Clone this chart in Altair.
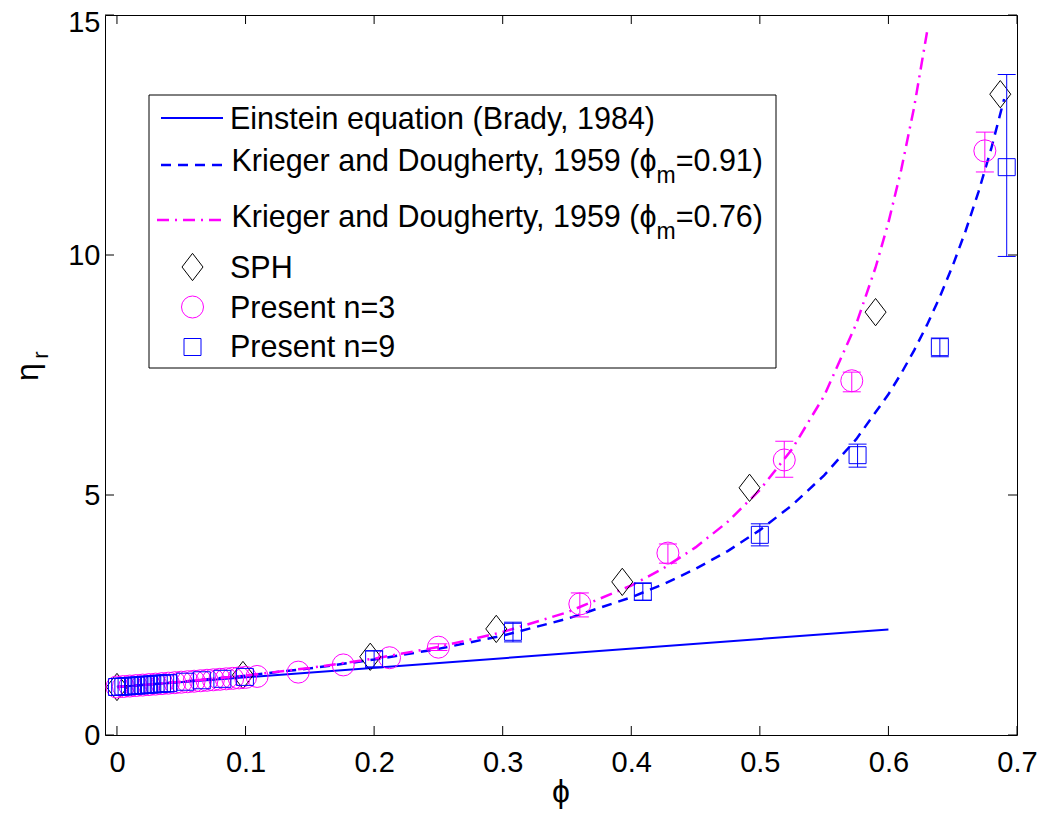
import altair as alt
import pandas as pd

# ---------------- data ----------------
einstein_phi = [0.0, 0.6]
einstein_eta = [1.0, 2.2]

kd91_phi = [0.0, 0.05, 0.1, 0.15, 0.2, 0.25, 0.3, 0.35, 0.4, 0.425, 0.45, 0.475, 0.5,
            0.525, 0.55, 0.575, 0.6, 0.61, 0.62, 0.63, 0.64, 0.65, 0.66, 0.67, 0.68, 0.69]
kd91_eta = [1.0, 1.108, 1.236, 1.388, 1.571, 1.794, 2.071, 2.420, 2.869, 3.143, 3.461, 3.832, 4.268,
            4.786, 5.408, 6.164, 7.098, 7.535, 8.014, 8.543, 9.128, 9.777, 10.50, 11.31, 12.22, 13.25]

kd76_phi = [0.0, 0.05, 0.1, 0.15, 0.2, 0.25, 0.3, 0.35, 0.4, 0.425, 0.45, 0.475, 0.5,
            0.525, 0.55, 0.575, 0.59, 0.6, 0.61, 0.62, 0.63]
kd76_eta = [1.0, 1.109, 1.239, 1.397, 1.591, 1.834, 2.145, 2.555, 3.114, 3.473, 3.908, 4.441, 5.106,
            5.954, 7.064, 8.565, 9.740, 10.68, 11.78, 13.08, 14.64]

sph_phi = [0.0, 0.098, 0.197, 0.295, 0.393, 0.492, 0.590, 0.687]
sph_eta = [1.00, 1.25, 1.63, 2.21, 3.19, 5.15, 8.81, 13.35]

n3_phi = [0.0, 0.005, 0.01, 0.015, 0.02, 0.025, 0.03, 0.035, 0.04, 0.045, 0.05,
          0.055, 0.06, 0.065, 0.07, 0.075, 0.08, 0.085, 0.09, 0.095, 0.1, 0.109,
          0.141, 0.176, 0.212, 0.25, 0.36, 0.4285, 0.519, 0.5715, 0.675]
n3_eta = [1.00, 1.01, 1.02, 1.03, 1.04, 1.05, 1.06, 1.07, 1.08, 1.09, 1.10,
          1.11, 1.12, 1.13, 1.14, 1.15, 1.16, 1.17, 1.18, 1.19, 1.20, 1.22,
          1.31, 1.46, 1.61, 1.83, 2.73, 3.79, 5.73, 7.38, 12.17]
n3_err_phi = [0.25, 0.36, 0.4285, 0.519, 0.5715, 0.675]
n3_err_lo = [1.76, 2.46, 3.58, 5.37, 7.15, 11.73]
n3_err_hi = [1.90, 2.96, 3.98, 6.12, 7.56, 12.56]

n9_phi = [0.0, 0.0025, 0.005, 0.0075, 0.01, 0.0125, 0.015, 0.0175, 0.02, 0.0225, 0.025,
          0.0275, 0.03, 0.0325, 0.035, 0.0375, 0.04, 0.053, 0.066, 0.082, 0.0995,
          0.2, 0.308, 0.409, 0.5, 0.576, 0.640, 0.692]
n9_eta = [1.000, 1.005, 1.010, 1.015, 1.020, 1.025, 1.030, 1.035, 1.040, 1.045, 1.050,
          1.055, 1.060, 1.065, 1.070, 1.075, 1.080, 1.11, 1.14, 1.17, 1.21,
          1.58, 2.15, 2.98, 4.17, 5.83, 8.08, 11.83]
n9_err_phi = [0.2, 0.308, 0.409, 0.5, 0.576, 0.640, 0.692]
n9_err_lo = [1.42, 1.94, 2.81, 3.94, 5.58, 7.88, 9.97]
n9_err_hi = [1.75, 2.35, 3.17, 4.40, 6.06, 8.27, 13.76]

x_ticks = [0, 0.1, 0.2, 0.3, 0.4, 0.5, 0.6, 0.7]
y_ticks = [0, 5, 10, 15]

legend_labels = ["Einstein equation (Brady, 1984)",
                 "Krieger and Dougherty, 1959 (\u03d5", "m", "=0.91)",
                 "Krieger and Dougherty, 1959 (\u03d5", "m", "=0.76)",
                 "SPH", "Present n=3", "Present n=9"]

# ---------------- styling ----------------
W, H = 912, 720
FONT = "Liberation Sans"
BLUE = "#0000ff"
MAG = "#ff00ff"
DIAMOND = "M0,-1.3L1,0L0,1.3L-1,0Z"
FS = 30.5

xs = alt.Scale(domain=[-0.0093, 0.7], nice=False, zero=False)
ys = alt.Scale(domain=[0, 15], nice=False, zero=False)
x_axis = alt.Axis(values=x_ticks, format="~g", ticks=False, tickSize=0, domain=False, grid=False,
                  labelFont=FONT, labelFontSize=29, labelColor="black", labelPadding=13,
                  labelFlush=False, labelOverlap=False, title=None)
y_axis = alt.Axis(values=y_ticks, format="d", ticks=False, tickSize=0, domain=False, grid=False,
                  labelFont=FONT, labelFontSize=29, labelColor="black", labelPadding=5,
                  labelFlush=False, labelOverlap=False, title=None,
                  labelOffset={"condition": {"test": "datum.value == 15", "value": 7}, "value": 0})


def X(f):
    return alt.X(f, type="quantitative", scale=xs, axis=x_axis)


def Y(f):
    return alt.Y(f, type="quantitative", scale=ys, axis=y_axis)


def Y2(f):
    return alt.Y2(f)


one = pd.DataFrame({"k": [0]})
layers = []

# curves
df_e = pd.DataFrame({"phi": einstein_phi, "eta": einstein_eta})
layers.append(alt.Chart(df_e).mark_line(color=BLUE, strokeWidth=2).encode(x=X("phi"), y=Y("eta")))
df_91 = pd.DataFrame({"phi": kd91_phi, "eta": kd91_eta})
layers.append(alt.Chart(df_91).mark_line(color=BLUE, strokeWidth=2.5, strokeDash=[10, 7])
              .encode(x=X("phi"), y=Y("eta")))
df_76 = pd.DataFrame({"phi": kd76_phi, "eta": kd76_eta})
layers.append(alt.Chart(df_76).mark_line(color=MAG, strokeWidth=2.5, strokeDash=[12, 6, 2, 6])
              .encode(x=X("phi"), y=Y("eta")))

# SPH diamonds
df_s = pd.DataFrame({"phi": sph_phi, "eta": sph_eta})
layers.append(alt.Chart(df_s).mark_point(shape=DIAMOND, size=441, filled=False, color="black",
                                         strokeWidth=1, opacity=1)
              .encode(x=X("phi"), y=Y("eta")))

# n=3 circles + error bars
df_3 = pd.DataFrame({"phi": n3_phi, "eta": n3_eta})
df_3e = pd.DataFrame({"phi": n3_err_phi, "lo": n3_err_lo, "hi": n3_err_hi})
layers.append(alt.Chart(df_3e).mark_rule(color=MAG, strokeWidth=1)
              .encode(x=X("phi"), y=Y("lo"), y2=Y2("hi")))
layers.append(alt.Chart(df_3e).mark_tick(color=MAG, orient="horizontal", size=18, thickness=1, opacity=1)
              .encode(x=X("phi"), y=Y("lo")))
layers.append(alt.Chart(df_3e).mark_tick(color=MAG, orient="horizontal", size=18, thickness=1, opacity=1)
              .encode(x=X("phi"), y=Y("hi")))
layers.append(alt.Chart(df_3).mark_point(shape="circle", size=484, filled=False, color=MAG,
                                         strokeWidth=1, opacity=1)
              .encode(x=X("phi"), y=Y("eta")))

# n=9 squares + error bars
df_9 = pd.DataFrame({"phi": n9_phi, "eta": n9_eta})
df_9e = pd.DataFrame({"phi": n9_err_phi, "lo": n9_err_lo, "hi": n9_err_hi})
layers.append(alt.Chart(df_9e).mark_rule(color=BLUE, strokeWidth=1)
              .encode(x=X("phi"), y=Y("lo"), y2=Y2("hi")))
layers.append(alt.Chart(df_9e).mark_tick(color=BLUE, orient="horizontal", size=18, thickness=1, opacity=1)
              .encode(x=X("phi"), y=Y("lo")))
layers.append(alt.Chart(df_9e).mark_tick(color=BLUE, orient="horizontal", size=18, thickness=1, opacity=1)
              .encode(x=X("phi"), y=Y("hi")))
layers.append(alt.Chart(df_9).mark_point(shape="square", size=289, filled=False, color=BLUE,
                                         strokeWidth=1, opacity=1)
              .encode(x=X("phi"), y=Y("eta")))

# inward tick marks (bottom, top, left, right)
df_xt = pd.DataFrame({"t": x_ticks})
df_yt = pd.DataFrame({"t": y_ticks})
TL = 9
layers.append(alt.Chart(df_xt).mark_rule(color="black", strokeWidth=1)
              .encode(x=X("t"), y=alt.value(H), y2=alt.value(H - TL)))
layers.append(alt.Chart(df_xt).mark_rule(color="black", strokeWidth=1)
              .encode(x=X("t"), y=alt.value(0), y2=alt.value(TL)))
layers.append(alt.Chart(df_yt).mark_rule(color="black", strokeWidth=1)
              .encode(y=Y("t"), x=alt.value(0), x2=alt.value(TL)))
layers.append(alt.Chart(df_yt).mark_rule(color="black", strokeWidth=1)
              .encode(y=Y("t"), x=alt.value(W), x2=alt.value(W - TL)))

# legend box
layers.append(alt.Chart(one).mark_rect(fill="white", stroke="black", strokeWidth=1)
              .encode(x=alt.value(44), x2=alt.value(671), y=alt.value(80), y2=alt.value(353)))
# legend samples
layers.append(alt.Chart(one).mark_rule(color=BLUE, strokeWidth=2)
              .encode(x=alt.value(56), x2=alt.value(118), y=alt.value(103)))
layers.append(alt.Chart(one).mark_rule(color=BLUE, strokeWidth=2.5, strokeDash=[10, 7])
              .encode(x=alt.value(56), x2=alt.value(118), y=alt.value(150)))
layers.append(alt.Chart(one).mark_rule(color=MAG, strokeWidth=2.5, strokeDash=[12, 6, 2, 6])
              .encode(x=alt.value(52), x2=alt.value(118), y=alt.value(205)))
layers.append(alt.Chart(one).mark_point(shape=DIAMOND, size=441, filled=False, color="black",
                                        strokeWidth=1, opacity=1)
              .encode(x=alt.value(87.5), y=alt.value(252)))
layers.append(alt.Chart(one).mark_point(shape="circle", size=484, filled=False, color=MAG,
                                        strokeWidth=1, opacity=1)
              .encode(x=alt.value(87.5), y=alt.value(292)))
layers.append(alt.Chart(one).mark_point(shape="square", size=289, filled=False, color=BLUE,
                                        strokeWidth=1, opacity=1)
              .encode(x=alt.value(87.5), y=alt.value(332)))


def txt(s, x, y, size=FS, align="left", angle=None):
    kw = dict(text=s, font=FONT, fontSize=size, align=align, baseline="alphabetic", color="black")
    if angle is not None:
        kw["angle"] = angle
    return alt.Chart(one).mark_text(**kw).encode(x=alt.value(x), y=alt.value(y))


XE = 658
W_TAIL = 2.863 * FS
W_SUB = 0.833 * 23
layers.append(txt(legend_labels[0], 125, 114))
layers.append(txt(legend_labels[3], XE, 156, align="right"))
layers.append(txt(legend_labels[2], XE - W_TAIL, 168, size=23, align="right"))
layers.append(txt(legend_labels[1], XE - W_TAIL - W_SUB, 156, align="right"))
layers.append(txt(legend_labels[6], XE, 212, align="right"))
layers.append(txt(legend_labels[5], XE - W_TAIL, 224, size=23, align="right"))
layers.append(txt(legend_labels[4], XE - W_TAIL - W_SUB, 212, align="right"))
layers.append(txt(legend_labels[7], 125, 263))
layers.append(txt(legend_labels[8], 125, 303))
layers.append(txt(legend_labels[9], 125, 342))

# axis titles
layers.append(txt("\u03d5", 456, 787, size=32, align="center"))
layers.append(txt("\u03b7", -67, 357, size=32, align="center", angle=270))
layers.append(txt("r", -57, 340, size=22, align="center", angle=270))

chart = alt.layer(*layers).properties(
    width=W, height=H,
    padding={"left": 97, "top": 7, "right": 20, "bottom": 74},
    autosize=alt.AutoSizeParams(type="none"),
    background="white",
).configure_view(stroke="black", strokeWidth=1)

chart.save("out.html", embed_options={"renderer": "svg", "actions": False})
